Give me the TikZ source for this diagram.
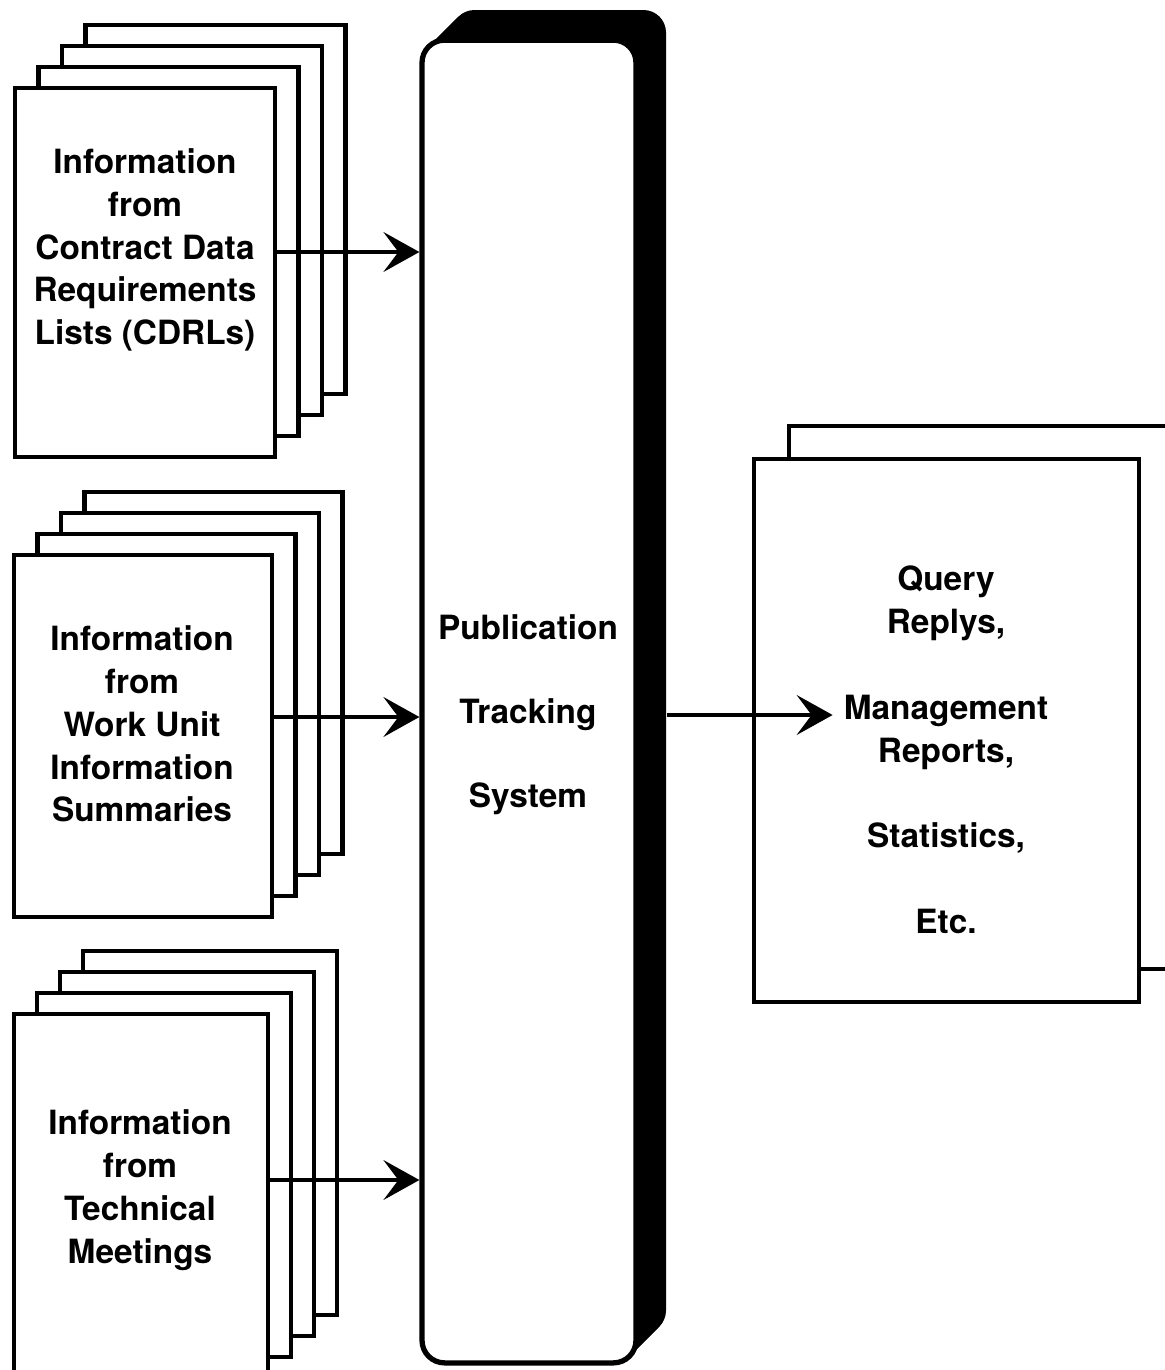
\documentclass[tikz,border=0pt]{standalone}
\usepackage{fontspec}
\setmainfont{TeX Gyre Heros}
\usetikzlibrary{arrows.meta}

\begin{document}
\begin{tikzpicture}[x=0.02cm,y=-0.02cm,
                    sheet/.style={draw,fill=white,line width=2.6pt},
                    doctext/.style={font=\fontsize{19}{24.4}\selectfont\bfseries,align=center},
                    flow/.style={-{Stealth[length=0.72cm,width=0.8cm,inset=0.3cm,line width=1.2pt]},line width=2pt}]
    \useasboundingbox (0,0) rectangle (1164,1370);

    % the pages behind each input
    \foreach \k in {3,2,1} {
        \draw[sheet] (15+23.5*\k,88-21*\k) rectangle ++(260,369);
        \draw[sheet] (14+23.5*\k,555-21*\k) rectangle ++(258,362);
        \draw[sheet] (14+23*\k,1014-21*\k) rectangle ++(254,364);
    }
    \node[sheet,minimum width=5.2cm,minimum height=7.38cm,outer sep=0pt] (cdrl) at (145,272.5) {};
    \node[sheet,minimum width=5.16cm,minimum height=7.24cm,outer sep=0pt] (wu) at (143,736) {};
    \node[sheet,minimum width=5.08cm,minimum height=7.28cm,outer sep=0pt] (tech) at (141,1196) {};
    \node[doctext] (cdrltxt) at (145,250) {Information\\from\\Contract Data\\Requirements\\Lists (CDRLs)};
    \node[doctext] (wutxt) at (142,724) {Information\\from\\Work Unit\\Information\\Summaries};
    \node[doctext] (techtxt) at (140,1190) {Information\\from\\Technical\\Meetings};

    % the tracking system, with its black depth
    \foreach \d in {0,1,...,30}
        \fill[rounded corners=0.45cm] (422+\d,40-\d) rectangle (636+\d,1363-\d);
    \node[draw,fill=white,line width=3pt,rounded corners=0.45cm,
          minimum width=4.28cm,minimum height=26.46cm] (pts) at (529,701.5) {};
    \node[doctext] (ptstxt) at (528,715) {Publication\\[23.4pt]Tracking\\[23.4pt]System};

    % output pages
    \draw[sheet] (789,426) rectangle ++(385,543);
    \node[sheet,minimum width=7.7cm,minimum height=10.86cm,outer sep=0pt] (reports) at (946.5,730.5) {};
    \node[doctext] (reptxt) at (946,750) {Query\\Replys,\\[24.4pt]Management\\Reports,\\[24.4pt]Statistics,\\[24.4pt]Etc.};

    \coordinate (in1) at ([yshift=0.41cm]cdrl.east);
    \coordinate (in2) at ([yshift=0.38cm]wu.east);
    \coordinate (in3) at ([yshift=0.32cm]tech.east);

    \draw[flow] (in1) -- (in1 -| pts.west);
    \draw[flow] (in2) -- (in2 -| pts.west);
    \draw[flow] (in3) -- (in3 -| pts.west);
    \draw[flow] (ptstxt -| pts.east) ++(28,0) -- ([xshift=-0.1cm]ptstxt -| reptxt.west);
\end{tikzpicture}
\end{document}
